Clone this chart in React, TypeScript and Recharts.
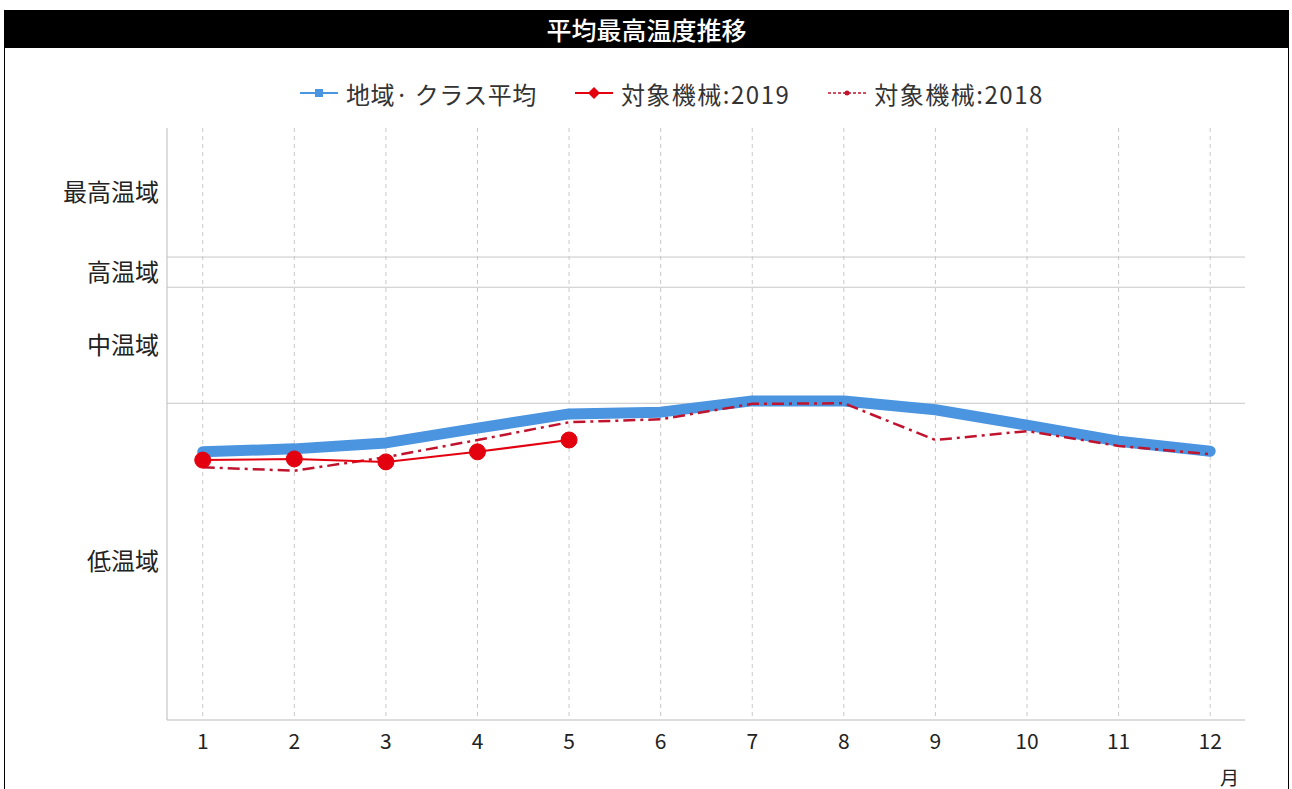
import React from "react";
import { CartesianGrid, Line, LineChart, ReferenceLine, XAxis, YAxis } from "recharts";

// 月
const months = [1, 2, 3, 4, 5, 6, 7, 8, 9, 10, 11, 12];
// 温度指標 (0〜100 の相対値)
const areaAvg = [45.3, 45.8, 46.8, 49.3, 51.7, 52.0, 53.9, 53.9, 52.4, 49.8, 47.1, 45.4];
const machine2019 = [43.9, 44.1, 43.6, 45.3, 47.3];
const machine2018 = [42.7, 42.1, 44.4, 47.3, 50.3, 50.8, 53.4, 53.5, 47.3, 48.8, 46.3, 44.9];
// 温域の境界と表示位置
const bandBounds = [53.5, 73.1, 78.2];
const bandTicks = [26.7, 63.3, 75.6, 89.1];
const bandLabels: Record<string, string> = {
  "26.7": "低温域",
  "63.3": "中温域",
  "75.6": "高温域",
  "89.1": "最高温域",
};

const data = months.map((m, i) => ({
  m,
  avg: areaAvg[i],
  y2019: machine2019[i],
  y2018: machine2018[i],
}));

const FONT = "'Noto Sans CJK JP', 'Noto Sans', sans-serif";
const BLUE = "#4a94e0";
const RED = "#e3000f";
const DARKRED = "#c0142e";

const legendItems = [
  { label: "地域· クラス平均", color: BLUE, kind: "square" },
  { label: "対象機械:2019", color: RED, kind: "diamond" },
  { label: "対象機械:2018", color: DARKRED, kind: "dash" },
];

function LegendIcon({ color, kind }: { color: string; kind: string }) {
  return (
    <svg width={38} height={14} style={{ marginRight: 8 }}>
      <line x1={0} y1={7} x2={38} y2={7} stroke={color} strokeWidth={kind === "dash" ? 1.5 : 2}
        strokeDasharray={kind === "dash" ? "3 2" : undefined} />
      {kind === "square" && <rect x={15} y={3} width={8} height={8} fill={color} />}
      {kind === "diamond" && <polygon points="19,1 25,7 19,13 13,7" fill={color} />}
      {kind === "dash" && <circle cx={19} cy={7} r={2.5} fill={color} />}
    </svg>
  );
}

export default function App() {
  return (
    <div style={{ position: "absolute", left: 0, top: 0, width: 1292, height: 789, fontFamily: FONT }}>
      <div style={{ position: "absolute", left: 4, top: 10, width: 1285, height: 790, border: "1px solid #000", boxSizing: "border-box" }} />
      <div style={{ position: "absolute", left: 4, top: 10, width: 1285, height: 38, background: "#000", color: "#fff",
        fontSize: 25, fontWeight: 500, display: "flex", alignItems: "center", justifyContent: "center" }}>
        平均最高温度推移
      </div>
      <div style={{ position: "absolute", left: 300, top: 78, height: 30, display: "flex",
        alignItems: "center", fontSize: 24, color: "#333", whiteSpace: "nowrap" }}>
        {legendItems.map((it) => (
          <div key={it.label} style={{ display: "flex", alignItems: "center", marginRight: 38 }}>
            <LegendIcon color={it.color} kind={it.kind} />
            <span style={{ letterSpacing: it.kind === "square" ? 0.5 : 1.5 }}>{it.label}</span>
          </div>
        ))}
      </div>
      <div style={{ position: "absolute", left: 0, top: 0 }}>
        <LineChart width={1292} height={789} data={data} margin={{ top: 128, right: 47, bottom: 0, left: 0 }}>
          <CartesianGrid horizontal={false} stroke="#c8c8c8" strokeDasharray="4 4" syncWithTicks />
          <XAxis dataKey="m" type="number" domain={[0.61, 12.38]} ticks={months} stroke="#bbb" height={69}
            tickLine={false} tick={{ fill: "#222", fontSize: 21, fontFamily: FONT }} tickMargin={8}
            label={{ value: "月", position: "insideBottomRight", offset: 0, dx: -6, dy: -4, fill: "#222", fontSize: 19 }} />
          <YAxis type="number" domain={[0, 100]} ticks={bandTicks} width={167} axisLine={{ stroke: "#bbb" }}
            tickLine={false} tickMargin={2} interval={0}
            tick={{ fill: "#222", fontSize: 24, fontFamily: FONT }}
            tickFormatter={(v) => bandLabels[String(v)] ?? ""} />
          {bandBounds.map((b) => (
            <ReferenceLine key={b} y={b} stroke="#c8c8c8" strokeWidth={1} />
          ))}
          <Line dataKey="avg" stroke={BLUE} strokeWidth={11} strokeLinejoin="round" strokeLinecap="round"
            dot={false} isAnimationActive={false} />
          <Line dataKey="y2018" stroke={DARKRED} strokeWidth={2.5} strokeDasharray="12 5 3 5"
            dot={false} isAnimationActive={false} />
          <Line dataKey="y2019" stroke={RED} strokeWidth={2} connectNulls={false}
            dot={{ r: 8, fill: RED, stroke: RED, strokeWidth: 1 }} isAnimationActive={false} />
        </LineChart>
      </div>
    </div>
  );
}
